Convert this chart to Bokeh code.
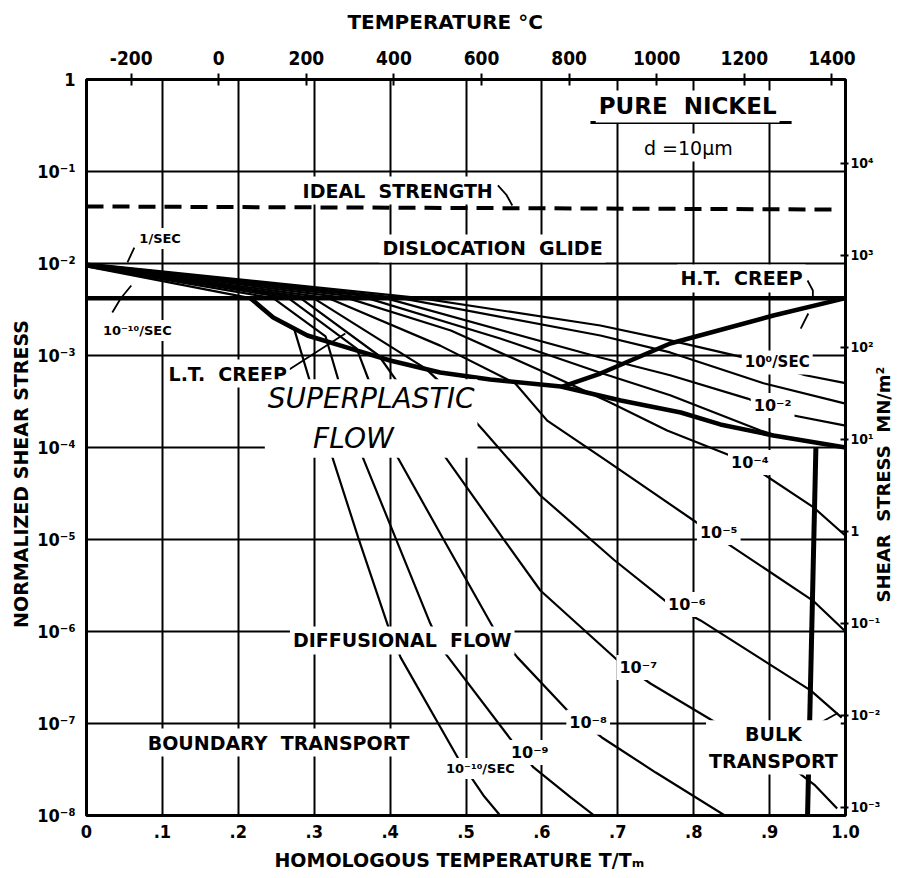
import math
from bokeh.plotting import figure
from bokeh.models import (Range1d, LinearAxis, LogAxis, FixedTicker,
                          CustomJSTickFormatter, Label, LogScale)
from bokeh.embed import file_html
from bokeh.resources import INLINE

# ------------------------------------------------------------------ data
x_ticks = [0.0, 0.1, 0.2, 0.3, 0.4, 0.5, 0.6, 0.7, 0.8, 0.9, 1.0]
x_tick_labels = ["0", ".1", ".2", ".3", ".4", ".5", ".6", ".7", ".8", ".9", "1.0"]
x_grid = [0.1, 0.2, 0.3, 0.4, 0.5, 0.6, 0.7, 0.8, 0.9]

y_ticks = [1.0, 1e-1, 1e-2, 1e-3, 1e-4, 1e-5, 1e-6, 1e-7, 1e-8]
y_tick_labels = ["1", "10⁻¹", "10⁻²", "10⁻³", "10⁻⁴", "10⁻⁵", "10⁻⁶", "10⁻⁷", "10⁻⁸"]
y_grid = [1e-1, 1e-2, 1e-3, 1e-4, 1e-5, 1e-6, 1e-7]

temp_ticks = [-200, 0, 200, 400, 600, 800, 1000, 1200, 1400]
temp_tick_labels = ["-200", "0", "200", "400", "600", "800", "1000", "1200", "1400"]
temp_at_x0 = -302.0
temp_at_x1 = 1431.0

shear_modulus_MN = 8.1e4
mn_ticks = [1e4, 1e3, 1e2, 1e1, 1.0, 1e-1, 1e-2, 1e-3]
mn_tick_labels = ["10⁴", "10³", "10²", "10¹", "1", "10⁻¹", "10⁻²", "10⁻³"]

# strain-rate contours: homologous temperature (T/TM) and normalized shear stress
r0_t = [0.0, 0.440, 0.677, 0.769, 0.871, 0.947, 1.0]
r0_s = [1.0e-2, 4.2e-3, 2.12e-3, 1.46e-3, 9.3e-4, 6.1e-4, 5.0e-4]
r1_t = [0.0, 0.414, 0.677, 0.769, 0.892, 1.0]
r1_s = [9.9e-3, 4.2e-3, 1.65e-3, 1.08e-3, 5.0e-4, 3.0e-4]
r2_t = [0.0, 0.394, 0.677, 0.769, 0.871, 0.918, 1.0]
r2_s = [9.8e-3, 4.2e-3, 9.5e-4, 6.1e-4, 3.4e-4, 2.34e-4, 1.73e-4]
r3_t = [0.0, 0.370, 0.545, 0.677, 0.769, 0.888, 0.914, 1.0]
r3_s = [9.7e-3, 4.2e-3, 1.53e-3, 6.5e-4, 3.7e-4, 1.53e-4, 1.3e-4, 1.0e-4]
r4_t = [0.0, 0.344, 0.480, 0.598, 0.690, 0.765, 0.848, 0.885, 0.958, 1.0]
r4_s = [9.7e-3, 4.2e-3, 1.87e-3, 6.87e-4, 3.08e-4, 1.53e-4, 8.2e-5, 5.6e-5, 2.23e-5, 1.1e-5]
r5_t = [0.0, 0.319, 0.466, 0.565, 0.607, 0.685, 0.800, 0.842, 0.957, 1.0]
r5_s = [9.6e-3, 4.2e-3, 1.28e-3, 4.96e-4, 1.96e-4, 7.2e-5, 1.61e-5, 9.3e-6, 2.17e-6, 1.0e-6]
r6_t = [0.0, 0.299, 0.447, 0.466, 0.523, 0.598, 0.696, 0.765, 0.809, 0.954, 0.995]
r6_s = [9.5e-3, 4.2e-3, 7.2e-4, 5.1e-4, 1.53e-4, 3.01e-5, 5.91e-6, 2.07e-6, 1.32e-6, 2.29e-7, 1.16e-7]
r7_t = [0.0, 0.282, 0.385, 0.410, 0.473, 0.548, 0.598, 0.700, 0.743, 0.862, 0.938, 0.960, 0.989]
r7_s = [9.5e-3, 4.2e-3, 1.0e-3, 5.1e-4, 7.8e-5, 1.05e-5, 2.79e-6, 4.84e-7, 2.72e-7, 7.05e-8, 2.93e-8, 2.12e-8, 1.19e-8]
r8_t = [0.0, 0.266, 0.356, 0.372, 0.410, 0.469, 0.536, 0.568, 0.634, 0.679, 0.750, 0.841]
r8_s = [9.4e-3, 4.2e-3, 1.19e-3, 5.35e-4, 7.8e-5, 1.05e-5, 1.10e-6, 5.2e-7, 1.38e-7, 7.05e-8, 2.93e-8, 1.0e-8]
r9_t = [0.0, 0.246, 0.315, 0.332, 0.364, 0.407, 0.453, 0.470, 0.563, 0.589, 0.638, 0.669]
r9_s = [9.3e-3, 4.2e-3, 1.61e-3, 5.35e-4, 7.8e-5, 1.05e-5, 1.22e-6, 6.2e-7, 6.07e-8, 3.33e-8, 1.57e-8, 1.0e-8]
r10_t = [0.0, 0.216, 0.246, 0.274, 0.294, 0.324, 0.358, 0.398, 0.414, 0.489, 0.523, 0.545]
r10_s = [9.3e-3, 4.2e-3, 2.59e-3, 1.9e-3, 5.35e-4, 7.8e-5, 1.05e-5, 1.10e-6, 5.2e-7, 4.27e-8, 1.65e-8, 1.0e-8]

# field boundaries
glide_t = [0.0, 1.0]
glide_s = [4.2e-3, 4.2e-3]
plc_lower_t = [0.216, 0.246, 0.291, 0.348, 0.400, 0.466, 0.532, 0.625, 0.704, 0.783, 0.835, 0.905, 1.0]
plc_lower_s = [4.2e-3, 2.59e-3, 1.65e-3, 1.19e-3, 8.83e-4, 6.53e-4, 5.48e-4, 4.6e-4, 3.24e-4, 2.40e-4, 1.78e-4, 1.35e-4, 1.0e-4]
ht_t = [0.627, 0.677, 0.769, 0.905, 1.0]
ht_s = [4.6e-4, 6.37e-4, 1.35e-3, 2.72e-3, 4.2e-3]
bulk_t = [0.961, 0.950]
bulk_s = [1.0e-4, 1.0e-8]
ideal_t = [0.0, 0.988]
ideal_s = [4.17e-2, 3.86e-2]

# ------------------------------------------------------------------ style
TICKF = "'DejaVu Sans Condensed', 'DejaVu Sans', sans-serif"
COND = "'DejaVu Sans', sans-serif"
SANS = "'DejaVu Sans', sans-serif"
NB = "\u00a0"
SP = " " + NB   # a wide word gap that survives SVG whitespace collapsing

p = figure(width=908, height=874, x_range=Range1d(0, 1), y_range=Range1d(1e-8, 1),
           y_axis_type="log", output_backend="svg", toolbar_location=None,
           min_border_left=86, min_border_right=63, min_border_top=79, min_border_bottom=59)
p.background_fill_color = "white"
p.border_fill_color = "white"
p.outline_line_color = "black"
p.outline_line_width = 3


def lin_formatter(vals, labs):
    return CustomJSTickFormatter(args=dict(tvals=vals, tlabs=labs), code="""
        let best = 0, bd = Infinity;
        for (let i = 0; i < tvals.length; i++) {
            const d = Math.abs(tvals[i] - tick);
            if (d < bd) { bd = d; best = i; }
        }
        return tlabs[best];
    """)


def log_formatter(vals, labs):
    return CustomJSTickFormatter(args=dict(tvals=vals, tlabs=labs), code="""
        let best = 0, bd = Infinity;
        for (let i = 0; i < tvals.length; i++) {
            const d = Math.abs(Math.log10(tvals[i]) - Math.log10(tick));
            if (d < bd) { bd = d; best = i; }
        }
        return tlabs[best];
    """)


def style_axis(ax, size, tick_in=0, tick_out=0, standoff=10, title="", title_standoff=8):
    ax.axis_line_color = None
    ax.major_tick_in = tick_in
    ax.major_tick_out = tick_out
    ax.major_tick_line_width = 2
    ax.major_tick_line_color = "black"
    ax.minor_tick_line_color = None
    ax.major_label_text_font = TICKF
    ax.major_label_text_font_style = "bold"
    ax.major_label_text_font_size = size
    ax.major_label_text_color = "black"
    ax.major_label_standoff = standoff
    ax.axis_label = title
    ax.axis_label_standoff = title_standoff
    ax.axis_label_text_font = SANS
    ax.axis_label_text_font_style = "bold"
    ax.axis_label_text_font_size = "19px"
    ax.axis_label_text_color = "black"


bottom = p.below[0]
bottom.ticker = FixedTicker(ticks=x_ticks)
bottom.formatter = lin_formatter(x_ticks, x_tick_labels)
style_axis(bottom, "18px", standoff=9, title="HOMOLOGOUS  TEMPERATURE  T/Tₘ",
           title_standoff=8)

left = p.left[0]
left.ticker = FixedTicker(ticks=y_ticks)
left.formatter = log_formatter(y_ticks, y_tick_labels)
style_axis(left, "18px", standoff=11, title="NORMALIZED  SHEAR  STRESS" + NB * 6,
           title_standoff=2)

p.xgrid.ticker = FixedTicker(ticks=x_grid)
p.ygrid.ticker = FixedTicker(ticks=y_grid)
for g in (p.xgrid, p.ygrid):
    g.grid_line_color = "black"
    g.grid_line_width = 2
    g.grid_line_alpha = 1

p.extra_x_ranges = {"temp": Range1d(temp_at_x0, temp_at_x1)}
top = LinearAxis(x_range_name="temp", ticker=FixedTicker(ticks=temp_ticks),
                 formatter=lin_formatter(temp_ticks, temp_tick_labels))
style_axis(top, "19px", tick_in=6, tick_out=6, standoff=9,
           title="TEMPERATURE  °C" + NB * 5, title_standoff=14)
top.axis_label_text_font_size = "20px"
p.add_layout(top, "above")

p.extra_y_ranges = {"mn": Range1d(1e-8 * shear_modulus_MN, 1.0 * shear_modulus_MN)}
p.extra_y_scales = {"mn": LogScale()}
right = LogAxis(y_range_name="mn", ticker=FixedTicker(ticks=mn_ticks),
                formatter=log_formatter(mn_ticks, mn_tick_labels))
right_title = "SHEAR" + SP + "STRESS" + SP + "MN/m²"
style_axis(right, "14px", tick_in=5, tick_out=3, standoff=2, title="",
           title_standoff=0)
right.axis_label_text_font_size = "18px"
props = right.properties()
if "axis_label_orientation" in props and "axis_label_align" in props:
    right.axis_label_orientation = math.pi / 2
    right.axis_label_align = "start"
    right.axis_label = NB * 34 + right_title
elif "axis_label_orientation" in props:
    right.axis_label_orientation = math.pi / 2
    right.axis_label = right_title
else:
    right.axis_label = right_title
p.add_layout(right, "right")

# ------------------------------------------------------------------ marks
p.line(ideal_t, ideal_s, line_color="black", line_width=4, line_dash="17 9")

contours_t = [r0_t, r1_t, r2_t, r3_t, r4_t, r5_t, r6_t, r7_t, r8_t, r9_t, r10_t]
contours_s = [r0_s, r1_s, r2_s, r3_s, r4_s, r5_s, r6_s, r7_s, r8_s, r9_s, r10_s]
p.multi_line(xs=contours_t, ys=contours_s, line_color="black", line_width=2.2)

p.multi_line(xs=[glide_t, plc_lower_t, ht_t], ys=[glide_s, plc_lower_s, ht_s],
             line_color="black", line_width=4.5)
p.line(bulk_t, bulk_s, line_color="black", line_width=5)

# leader lines / decorations of the annotations
lead_xs = [[0.542, 0.553, 0.561], [0.054, 0.063], [0.034, 0.045, 0.059],
           [0.950, 0.957, 0.957], [0.941, 0.951], [0.265, 0.341], [0.965, 0.99]]
lead_ys = [[0.0705, 0.0562, 0.0427], [0.0103, 0.0149], [2.93e-3, 4.17e-3, 5.77e-3],
           [6.53e-3, 5.09e-3, 4.27e-3], [1.96e-3, 2.86e-3], [6.87e-4, 1.73e-3], [1.0e-7, 1.3e-7]]
p.multi_line(xs=lead_xs, ys=lead_ys, line_color="black", line_width=1.8)
p.line([0.664, 0.929], [0.341, 0.341], line_color="black", line_width=3)


def add_label(text, x, y, size, font=COND, style="bold", bg=True, align="center", angle=0.0):
    lab = Label(x=x, y=y, text=text, text_align=align, text_baseline="middle",
                text_font=font, text_font_size=size, text_font_style=style,
                text_color="black", angle=angle)
    if bg:
        lab.background_fill_color = "white"
        lab.padding = 3
    p.add_layout(lab)


# field labels
add_label("PURE" + SP + "NICKEL", 0.792, 0.509, "23px")
add_label("d =10μm", 0.793, 0.182, "19px", style="normal")
add_label("IDEAL" + SP + "STRENGTH", 0.410, 0.0621, "19px")
add_label("DISLOCATION" + SP + "GLIDE", 0.535, 0.0146, "19px")
add_label("H.T." + SP + "CREEP", 0.863, 6.87e-3, "19px")
add_label("1/SEC", 0.097, 0.0187, "13px")
add_label("10⁻¹⁰/SEC", 0.067, 1.87e-3, "13px")
add_label("L.T." + SP + "CREEP", 0.186, 6.37e-4, "19px")
add_label("SUPERPLASTIC\nFLOW" + NB * 4, 0.375, 2.07e-4, "28px", font=SANS, style="italic")
add_label("DIFFUSIONAL" + SP + "FLOW", 0.416, 8.0e-7, "19px")
add_label("BOUNDARY" + SP + "TRANSPORT", 0.253, 6.2e-8, "19px")
add_label("BULK\nTRANSPORT", 0.905, 5.5e-8, "19px")

# strain-rate labels
add_label("10⁰/SEC", 0.910, 8.4e-4, "15px")
add_label("10⁻²", 0.904, 2.86e-4, "16px")
add_label("10⁻⁴", 0.874, 6.87e-5, "16px")
add_label("10⁻⁵", 0.833, 1.19e-5, "16px")
add_label("10⁻⁶", 0.791, 1.96e-6, "16px")
add_label("10⁻⁷", 0.727, 4.06e-7, "16px")
add_label("10⁻⁸", 0.661, 1.03e-7, "16px")
add_label("10⁻⁹", 0.584, 4.84e-8, "16px")
add_label("10⁻¹⁰/SEC", 0.519, 3.24e-8, "13px")

open("out.html", "w").write(file_html(p, INLINE))
